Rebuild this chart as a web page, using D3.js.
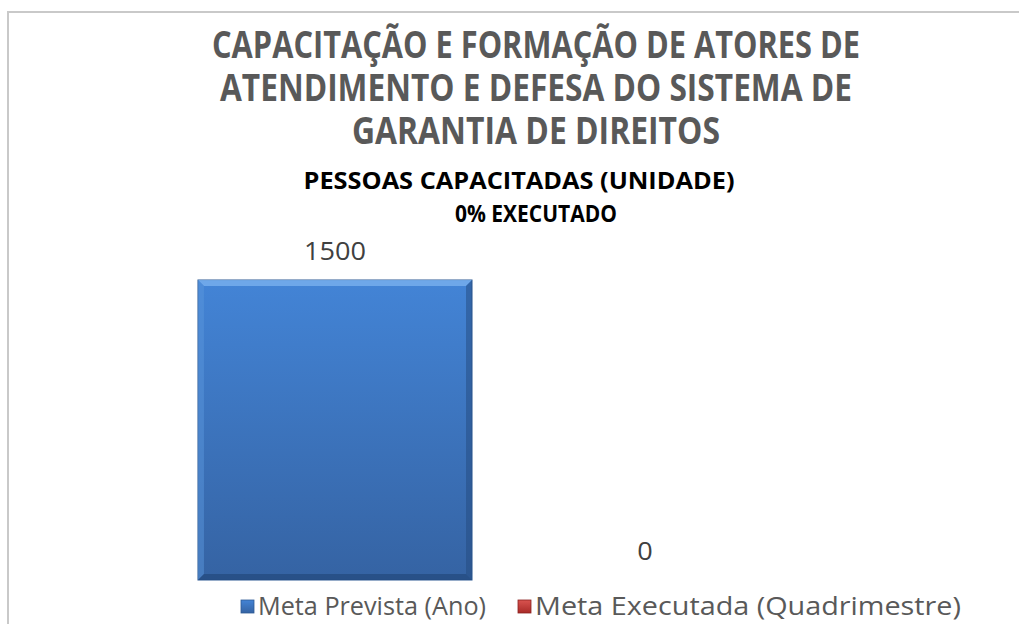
<!DOCTYPE html>
<meta charset="utf-8">
<script src="https://d3js.org/d3.v7.min.js"></script>
<style>
  body { margin: 0; background: #fff; }
  text { font-family: "Open Sans", "Noto Sans", sans-serif; }
</style>
<div id="my_dataviz"></div>
<script>
  // chart data
  var categories = ["Meta Prevista (Ano)", "Meta Executada (Quadrimestre)"];
  var values = [1500, 0];
  var titleLines = ["CAPACITAÇÃO E FORMAÇÃO DE ATORES DE", "ATENDIMENTO E DEFESA DO SISTEMA DE", "GARANTIA DE DIREITOS"];
  var subtitleLines = ["PESSOAS CAPACITADAS (UNIDADE)", "0% EXECUTADO"];

  var width = 1019, height = 624;

  var svg = d3.select("#my_dataviz")
    .append("svg")
      .attr("width", width)
      .attr("height", height);

  // gradients for the bevelled bars
  var defs = svg.append("defs");
  var grads = [
    {id: "gBlue", top: "#4384d6", bottom: "#3563a3"},
    {id: "gRed", top: "#d9534f", bottom: "#a92b28"}
  ];
  grads.forEach(function(g) {
    var lg = defs.append("linearGradient")
      .attr("id", g.id).attr("x1", 0).attr("y1", 0).attr("x2", 0).attr("y2", 1);
    lg.append("stop").attr("offset", "0%").attr("stop-color", g.top);
    lg.append("stop").attr("offset", "100%").attr("stop-color", g.bottom);
  });

  // chart frame
  svg.append("rect")
    .attr("x", 8).attr("y", 12)
    .attr("width", 1100).attr("height", 700)
    .attr("fill", "none")
    .attr("stroke", "#c9c9c9")
    .attr("stroke-width", 2);

  // title
  var titleLen = [648, 632, 368];
  svg.append("g").selectAll("text")
    .data(titleLines)
    .enter().append("text")
      .attr("x", 536)
      .attr("y", function(d, i) { return 58 + i * 43; })
      .attr("text-anchor", "middle")
      .attr("font-size", 37)
      .attr("font-weight", "bold")
      .attr("fill", "#595959")
      .attr("textLength", function(d, i) { return titleLen[i]; })
      .attr("lengthAdjust", "spacingAndGlyphs")
      .text(function(d) { return d; });

  var subLen = [431, 162];
  var subX = [519, 536];
  svg.append("g").selectAll("text")
    .data(subtitleLines)
    .enter().append("text")
      .attr("x", function(d, i) { return subX[i]; })
      .attr("y", function(d, i) { return 189 + i * 33; })
      .attr("text-anchor", "middle")
      .attr("font-size", 22.5)
      .attr("font-weight", "bold")
      .attr("fill", "#000")
      .attr("textLength", function(d, i) { return subLen[i]; })
      .attr("lengthAdjust", "spacingAndGlyphs")
      .text(function(d) { return d; });

  // scales
  var x = d3.scaleBand()
    .domain(categories)
    .range([180, 800])
    .paddingInner(0.116)
    .paddingOuter(0.058);

  var y = d3.scaleLinear()
    .domain([0, 1500])
    .range([580, 280]);

  var fills = ["url(#gBlue)", "url(#gRed)"];

  // bars
  var bars = svg.append("g").selectAll("g")
    .data(values)
    .enter().append("g");

  bars.append("rect")
    .attr("x", function(d, i) { return x(categories[i]); })
    .attr("y", function(d) { return y(d); })
    .attr("width", x.bandwidth())
    .attr("height", function(d) { return y(0) - y(d); })
    .attr("fill", function(d, i) { return fills[i]; })
    .attr("stroke", "#2e5a94")
    .attr("stroke-width", 1);

  // bevel strips (top light, bottom/right dark)
  var bev = 6;
  bars.filter(function(d) { return d > 0; }).each(function(d, i) {
    var g = d3.select(this);
    var x0 = x(categories[i]), x1 = x0 + x.bandwidth();
    var y0 = y(d), y1 = y(0);
    g.append("polygon")
      .attr("points", [[x0, y0], [x1, y0], [x1 - bev, y0 + bev], [x0 + bev, y0 + bev]].join(" "))
      .attr("fill", "#79b0ee").attr("opacity", 0.8);
    g.append("polygon")
      .attr("points", [[x0, y0], [x0 + bev, y0 + bev], [x0 + bev, y1 - bev], [x0, y1]].join(" "))
      .attr("fill", "#5a95dc").attr("opacity", 0.5);
    g.append("polygon")
      .attr("points", [[x1, y0], [x1, y1], [x1 - bev, y1 - bev], [x1 - bev, y0 + bev]].join(" "))
      .attr("fill", "#234a7e").attr("opacity", 0.5);
    g.append("polygon")
      .attr("points", [[x0, y1], [x1, y1], [x1 - bev, y1 - bev], [x0 + bev, y1 - bev]].join(" "))
      .attr("fill", "#1f4577").attr("opacity", 0.6);
  });

  // value labels
  svg.append("g").selectAll("text")
    .data(values)
    .enter().append("text")
      .attr("x", function(d, i) { return x(categories[i]) + x.bandwidth() / 2; })
      .attr("y", function(d) { return y(d) - 20; })
      .attr("text-anchor", "middle")
      .attr("font-size", 26)
      .attr("fill", "#404040")
      .attr("textLength", function(d) { return String(d).length * 15.5; })
      .attr("lengthAdjust", "spacingAndGlyphs")
      .text(function(d) { return d; });

  // legend
  var legX = [241, 518];
  var legLen = [228, 426];
  var legend = svg.append("g").selectAll("g")
    .data(categories)
    .enter().append("g");

  legend.append("rect")
    .attr("x", function(d, i) { return legX[i]; })
    .attr("y", 600)
    .attr("width", 13).attr("height", 13)
    .attr("fill", function(d, i) { return fills[i]; })
    .attr("stroke", function(d, i) { return i == 0 ? "#2e5a94" : "#8a2220"; })
    .attr("stroke-width", 0.8);

  legend.append("text")
    .attr("x", function(d, i) { return legX[i] + 17; })
    .attr("y", 615)
    .attr("font-size", 25)
    .attr("fill", "#595959")
    .attr("textLength", function(d, i) { return legLen[i]; })
    .attr("lengthAdjust", "spacingAndGlyphs")
    .text(function(d) { return d; });
</script>
